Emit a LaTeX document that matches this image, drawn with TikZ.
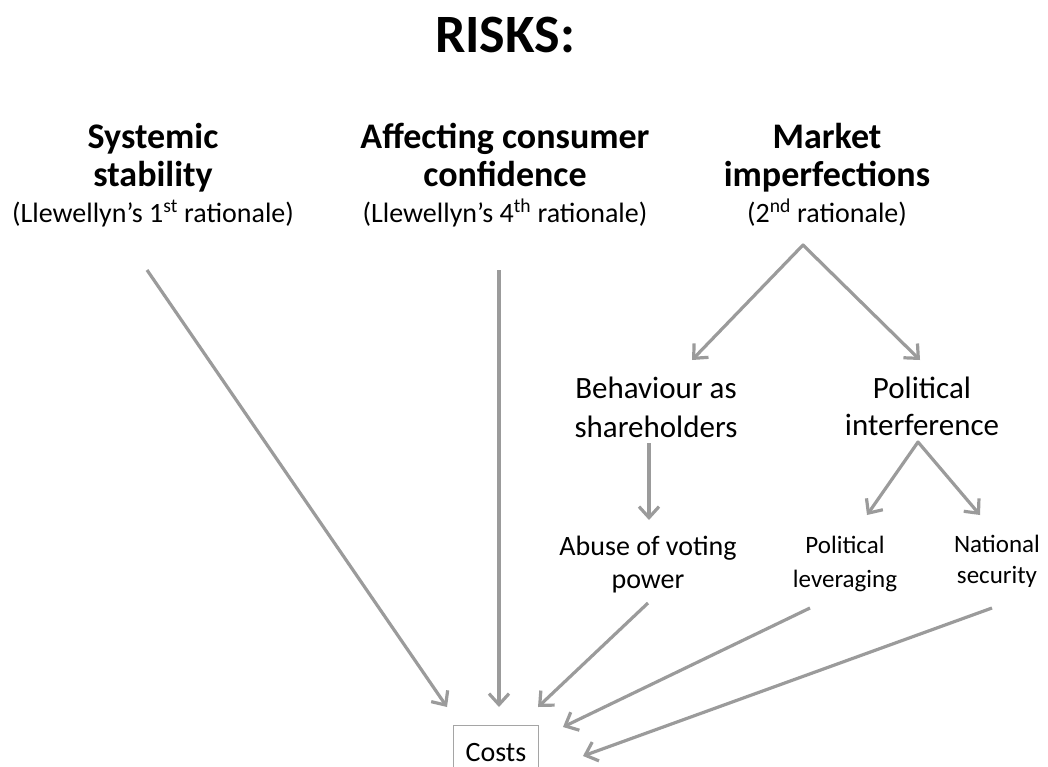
\documentclass[tikz,border=0pt]{standalone}
\usepackage{fontspec}
\setmainfont{Carlito}
\usetikzlibrary{arrows.meta}
\definecolor{arrgray}{RGB}{155,155,155}
\definecolor{boxgray}{RGB}{165,165,165}

\begin{document}
\begin{tikzpicture}[x=1pt,y=-1pt,
  >={Straight Barb[length=11pt,width=20pt]},
  head/.style={font=\fontsize{36}{38}\selectfont\bfseries, align=center, anchor=base, inner sep=0pt},
  note/.style={font=\fontsize{28}{34}\selectfont, anchor=base, inner sep=0pt},
  item/.style={align=center, anchor=base, inner sep=0pt},
  arr/.style={draw=arrgray, line width=3.2pt, line join=round}]
  \useasboundingbox (0,0) rectangle (1048,766);

  \node[font=\fontsize{54}{60}\selectfont\bfseries, anchor=base] (title) at (505,52) {RISKS:};

  \node[head] (sys) at (153,186) {Systemic\\stability};
  \node[note] (sysnote) at (153,222) {(Llewellyn’s 1\textsuperscript{st} rationale)};
  \node[head] (aff) at (505,186) {Affecting consumer\\confidence};
  \node[note] (affnote) at (505,222) {(Llewellyn’s 4\textsuperscript{th} rationale)};
  \node[head] (mkt) at (827,186) {Market\\imperfections};
  \node[note] (mktnote) at (827,222) {(2\textsuperscript{nd} rationale)};

  \node[item, font=\fontsize{31}{39}\selectfont] (beh) at (656,437) {Behaviour as\\shareholders};
  \node[item, font=\fontsize{31}{37}\selectfont] (pol) at (922,435) {Political\\interference};
  \node[item, font=\fontsize{28}{33}\selectfont] (abuse) at (648,588) {Abuse of voting\\power};
  \node[item, font=\fontsize{25}{34}\selectfont] (lev) at (845,587) {Political\\leveraging};
  \node[item, font=\fontsize{25}{31}\selectfont] (nat) at (997,583) {National\\security};

  \node[draw=boxgray, line width=0.8pt, font=\fontsize{28}{34}\selectfont, anchor=base,
    inner xsep=12pt, inner ysep=17pt] (costs) at (496,761) {Costs};

  \draw[arr, ->] ([xshift=-6pt,yshift=-48pt]sysnote.base) -- ([xshift=-49pt,yshift=54pt]costs.base);
  \draw[arr, ->] ([xshift=-6pt,yshift=-48pt]affnote.base) -- ([xshift=3pt,yshift=54pt]costs.base);
  \draw[arr, <->] ([xshift=36pt,yshift=77pt]beh.base) -- ([xshift=-24pt,yshift=-23pt]mktnote.base)
    -- ([xshift=-2pt,yshift=75pt]pol.base);
  \draw[arr, ->] ([xshift=-7pt,yshift=-6pt]beh.base) -- ([xshift=1pt,yshift=68pt]abuse.base);
  \draw[arr, <->] ([xshift=22pt,yshift=72pt]lev.base) -- ([xshift=-4pt,yshift=-7pt]pol.base)
    -- ([xshift=-17pt,yshift=68pt]nat.base);
  \draw[arr, ->] ([yshift=-15pt]abuse.base) -- ([xshift=42pt,yshift=54pt]costs.base);
  \draw[arr, ->] ([xshift=-35pt,yshift=-21pt]lev.base) -- ([xshift=67pt,yshift=34pt]costs.base);
  \draw[arr, ->] ([xshift=-5pt,yshift=-25pt]nat.base) -- ([xshift=87pt,yshift=5pt]costs.base);
\end{tikzpicture}
\end{document}
